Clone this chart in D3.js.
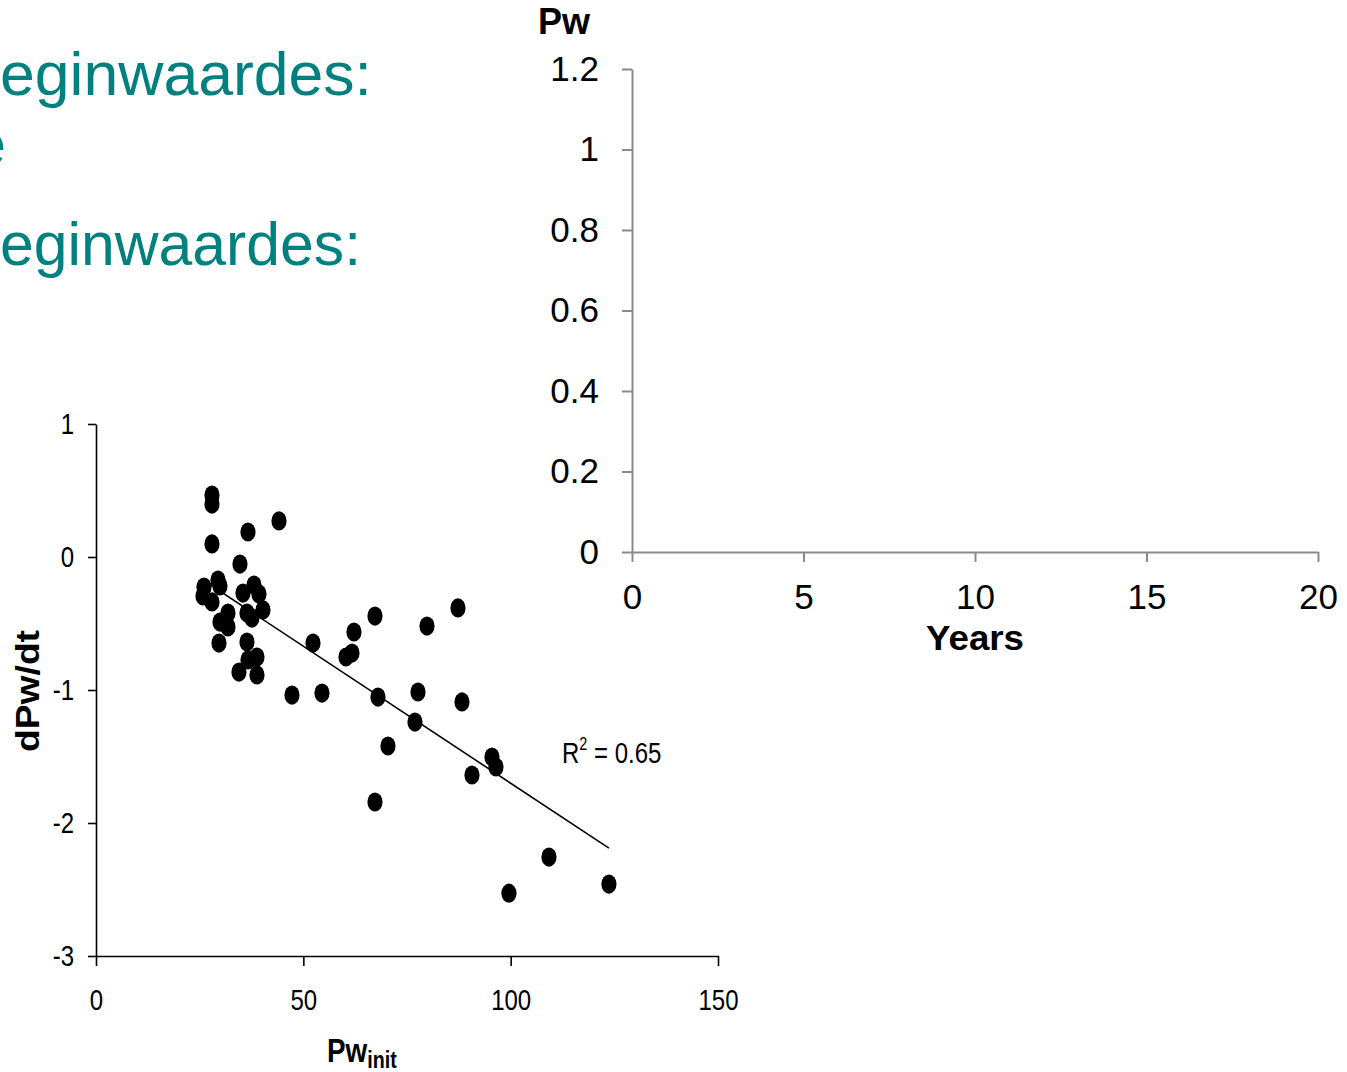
<!DOCTYPE html>
<html><head><meta charset="utf-8">
<script src="https://cdn.jsdelivr.net/npm/d3@7"></script>
<style>
body{margin:0;background:#fff;}
svg{display:block;}
.arial{font-family:"Liberation Sans",Arial,sans-serif;}
</style></head>
<body>
<svg id="c" width="1347" height="1072"></svg>
<script>
// ---- data ----
const scatterX = [27.97,27.97,27.97,36.65,44.13,34.72,29.42,29.9,26.04,25.8,27.97,38.1,39.3,35.45,40.27,36.41,37.6,31.83,29.9,31.83,29.66,36.41,38.82,36.65,34.48,38.82,47.26,54.5,52.33,60.28,61.73,62.21,67.28,68.0,70.41,67.28,76.92,77.65,79.82,87.29,88.26,90.67,95.49,96.45,99.59,109.24,123.7];
const scatterY = [0.466,0.398,0.098,0.188,0.271,-0.053,-0.173,-0.218,-0.226,-0.293,-0.338,-0.211,-0.278,-0.271,-0.398,-0.421,-0.459,-0.421,-0.489,-0.526,-0.647,-0.639,-0.752,-0.774,-0.865,-0.887,-1.038,-1.023,-0.647,-0.752,-0.722,-0.564,-0.444,-1.053,-1.421,-1.842,-1.241,-1.015,-0.519,-0.383,-1.090,-1.639,-1.504,-1.579,-2.528,-2.256,-2.459];
const trendSlope = -0.0206;
const trendIntercept = 0.359;
const rSquaredLabel = "0.65";
const scatterXTicks = [0,50,100,150];
const scatterYTicks = [1,0,-1,-2,-3];
const scatterYTickLabels = ["1","0","-1","-2","-3"];
const pwYTicks = [0,0.2,0.4,0.6,0.8,1,1.2];
const pwYTickLabels = ["0","0.2","0.4","0.6","0.8","1","1.2"];
const yearsTicks = [0,5,10,15,20];
const slideLines = ["eginwaardes:","e","eginwaardes:"];

const svg = d3.select("#c");
const teal = "#00807F";
const narrowFactor = 0.8;

function narrow(sel){
  sel.each(function(){
    const w = this.getComputedTextLength();
    d3.select(this).attr("textLength", w*narrowFactor).attr("lengthAdjust","spacingAndGlyphs");
  });
}

// ---- slide text fragments (cut at left edge in the slide) ----
svg.append("text").attr("class","arial").attr("x",0).attr("y",95)
  .attr("font-size",62).attr("fill",teal)
  .attr("textLength",372).attr("lengthAdjust","spacingAndGlyphs").text(slideLines[0]);
svg.append("text").attr("class","arial").attr("x",6).attr("y",165)
  .attr("text-anchor","end").attr("font-size",62).attr("fill",teal).text(slideLines[1]);
svg.append("text").attr("class","arial").attr("x",0).attr("y",265)
  .attr("font-size",62).attr("fill",teal)
  .attr("textLength",361).attr("lengthAdjust","spacingAndGlyphs").text(slideLines[2]);

// ---- scatter chart ----
const x = d3.scaleLinear().domain([0,150]).range([96,718]);
const y = d3.scaleLinear().domain([-3,1]).range([956,424]);

const gx = svg.append("g").attr("transform","translate(0,"+y(-3)+")")
  .call(d3.axisBottom(x).tickValues(scatterXTicks).tickSize(10).tickPadding(23).tickSizeOuter(0));
const gy = svg.append("g").attr("transform","translate("+x(0)+",0)")
  .call(d3.axisLeft(y).tickValues(scatterYTicks).tickFormat((d,i)=>scatterYTickLabels[i])
    .tickSize(8).tickPadding(14).tickSizeOuter(0));
[gx,gy].forEach(g=>{
  g.select(".domain").attr("stroke","#000").attr("stroke-width",1.6);
  g.selectAll(".tick line").attr("stroke","#000").attr("stroke-width",1.6);
  g.selectAll(".tick text").attr("class","arial").attr("font-size",30).attr("fill","#000").call(narrow);
});

// trend line
const xmin = d3.min(scatterX), xmax = d3.max(scatterX);
svg.append("line")
  .attr("x1",x(xmin)).attr("y1",y(trendIntercept+trendSlope*xmin))
  .attr("x2",x(xmax)).attr("y2",y(trendIntercept+trendSlope*xmax))
  .attr("stroke","#000").attr("stroke-width",1.6);

svg.append("g").selectAll("ellipse").data(scatterX.map((v,i)=>[v,scatterY[i]]))
  .join("ellipse").attr("cx",d=>x(d[0])).attr("cy",d=>y(d[1]))
  .attr("rx",7.6).attr("ry",9.6).attr("fill","#000");

// R^2 label
const r2 = svg.append("g").attr("transform","translate(562,763) scale(0.8,1)")
  .append("text").attr("class","arial").attr("x",0).attr("y",0)
  .attr("font-size",30).attr("fill","#000");
r2.append("tspan").text("R");
r2.append("tspan").attr("dy",-13).attr("font-size",18).text("2");
r2.append("tspan").attr("dy",13).text(" = "+rSquaredLabel);

// axis titles
svg.append("text").attr("class","arial").attr("font-weight","bold").attr("font-size",33)
  .attr("text-anchor","middle").attr("transform","translate(39,691) rotate(-90)")
  .attr("textLength",122).attr("lengthAdjust","spacingAndGlyphs").text("dPw/dt");
const pt = svg.append("g").attr("transform","translate(327,1062) scale(0.82,1)")
  .append("text").attr("class","arial").attr("font-weight","bold")
  .attr("x",0).attr("y",0).attr("font-size",34).attr("fill","#000");
pt.append("tspan").text("Pw");
pt.append("tspan").attr("dy",6).attr("font-size",24).text("init");

// ---- Pw vs Years chart ----
const x2 = d3.scaleLinear().domain([0,20]).range([632,1318]);
const y2 = d3.scaleLinear().domain([0,1.2]).range([552,69]);
const gx2 = svg.append("g").attr("transform","translate(0,"+y2(0)+")")
  .call(d3.axisBottom(x2).tickValues(yearsTicks).tickSize(10).tickPadding(22).tickSizeOuter(0));
const gy2 = svg.append("g").attr("transform","translate("+x2(0)+",0)")
  .call(d3.axisLeft(y2).tickValues(pwYTicks).tickFormat((d,i)=>pwYTickLabels[i]).tickSize(10).tickPadding(23).tickSizeOuter(0));
[gx2,gy2].forEach(g=>{
  g.select(".domain").attr("stroke","#8a8a8a").attr("stroke-width",2);
  g.selectAll(".tick line").attr("stroke","#8a8a8a").attr("stroke-width",2);
  g.selectAll(".tick text").attr("class","arial").attr("font-size",35).attr("fill","#000");
});
svg.append("text").attr("class","arial").attr("font-weight","bold").attr("font-size",35)
  .attr("x",975).attr("y",650).attr("text-anchor","middle")
  .attr("textLength",98).attr("lengthAdjust","spacingAndGlyphs").text("Years");
svg.append("text").attr("class","arial").attr("font-weight","bold").attr("font-size",36)
  .attr("x",564).attr("y",34).attr("text-anchor","middle").text("Pw");
</script>
</body></html>
